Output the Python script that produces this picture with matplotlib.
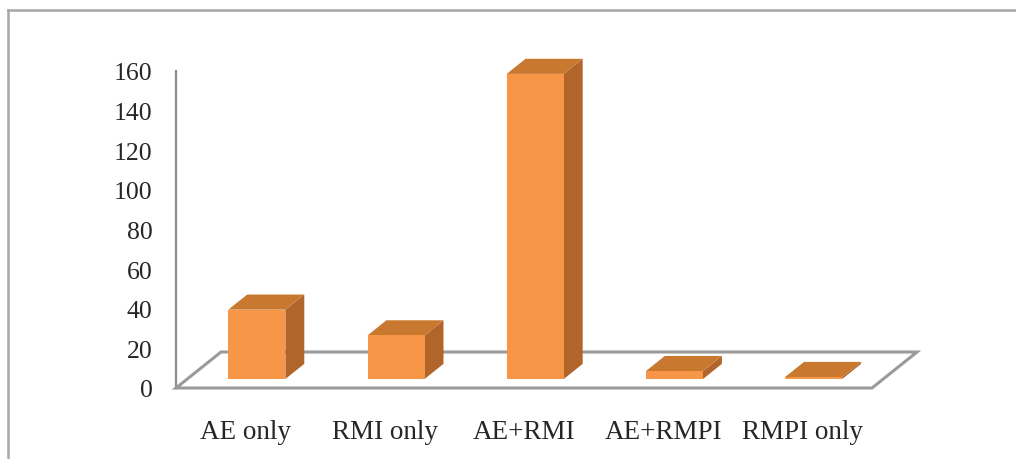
import matplotlib
matplotlib.use("Agg")
import matplotlib.pyplot as plt
from matplotlib.patches import Polygon
from matplotlib.lines import Line2D

categories = ["AE only", "RMI only", "AE+RMI", "AE+RMPI", "RMPI only"]
counts = [35, 22, 154, 4, 1]
y_ticks = [0, 20, 40, 60, 80, 100, 120, 140, 160]

FRONT = "#F79646"
TOP = "#C8782F"
SIDE = "#B1652B"
EDGE = "#9a9a9a"

plt.rcParams["font.family"] = ["Liberation Serif", "DejaVu Serif"]

W, H = 1016, 460
fig = plt.figure(figsize=(W / 100, H / 100), dpi=100)
fig.patch.set_facecolor("white")

# outer frame (top and left edges only)
fig.add_artist(Line2D([8 / W, 1.0], [1 - 11 / H, 1 - 11 / H], color="#a6a6a6", lw=1.8))
fig.add_artist(Line2D([8 / W, 8 / W], [0.0, 1 - 11 / H], color="#a6a6a6", lw=1.8))

left_px, right_px = 176, 872
y0_px, y160_px = 389, 72
ax = fig.add_axes([left_px / W, 1 - y0_px / H, (right_px - left_px) / W, (y0_px - y160_px) / H])
ax.set_xlim(-0.5, len(categories) - 0.5)
ax.set_ylim(0, 160)
ax.patch.set_alpha(0)

for s in ["top", "right", "bottom"]:
    ax.spines[s].set_visible(False)
ax.spines["left"].set_color("#8c8c8c")
ax.spines["left"].set_linewidth(1.6)
ax.spines["left"].set_zorder(1)

ax.set_yticks(y_ticks)
ax.set_yticklabels([str(t) for t in y_ticks])
ax.tick_params(axis="y", length=0, pad=17, labelsize=18.5, labelcolor="#262626")
ax.set_xticks(range(len(categories)))
ax.set_xticklabels(categories)
ax.tick_params(axis="x", length=0, pad=22, labelsize=19.5, labelcolor="#262626")
for lbl in ax.get_xticklabels():
    lbl.set_x(lbl.get_position()[0])

# oblique depth of the floor, expressed in data units
fig.canvas.draw()
p0 = ax.transData.transform((0, 0))
p1 = ax.transData.transform((1, 1))
ppx, ppy = p1[0] - p0[0], p1[1] - p0[1]
Dx, Dy = 45 / ppx, 36 / ppy

x_lo, x_hi = -0.5, len(categories) - 0.5
floor = Polygon([(x_lo, 0), (x_hi, 0), (x_hi + Dx, Dy), (x_lo + Dx, Dy)],
                closed=True, facecolor="white", edgecolor=EDGE, lw=2.2,
                joinstyle="miter", clip_on=False, zorder=2)
ax.add_patch(floor)

f, b = 0.25, 0.67
bw = 0.41
for i, v in enumerate(counts):
    x0, x1 = i - bw / 2, i + bw / 2
    side = Polygon([(x1 + f * Dx, f * Dy), (x1 + b * Dx, b * Dy),
                    (x1 + b * Dx, v + b * Dy), (x1 + f * Dx, v + f * Dy)],
                   closed=True, facecolor=SIDE, edgecolor="none", clip_on=False, zorder=3)
    top = Polygon([(x0 + f * Dx, v + f * Dy), (x1 + f * Dx, v + f * Dy),
                   (x1 + b * Dx, v + b * Dy), (x0 + b * Dx, v + b * Dy)],
                  closed=True, facecolor=TOP, edgecolor="none", clip_on=False, zorder=3)
    ax.add_patch(side)
    ax.add_patch(top)
    ax.bar(i + f * Dx, v, width=bw, bottom=f * Dy, color=FRONT, edgecolor="none",
           clip_on=False, zorder=4)

fig.savefig("out.png", dpi=100, facecolor="white")
